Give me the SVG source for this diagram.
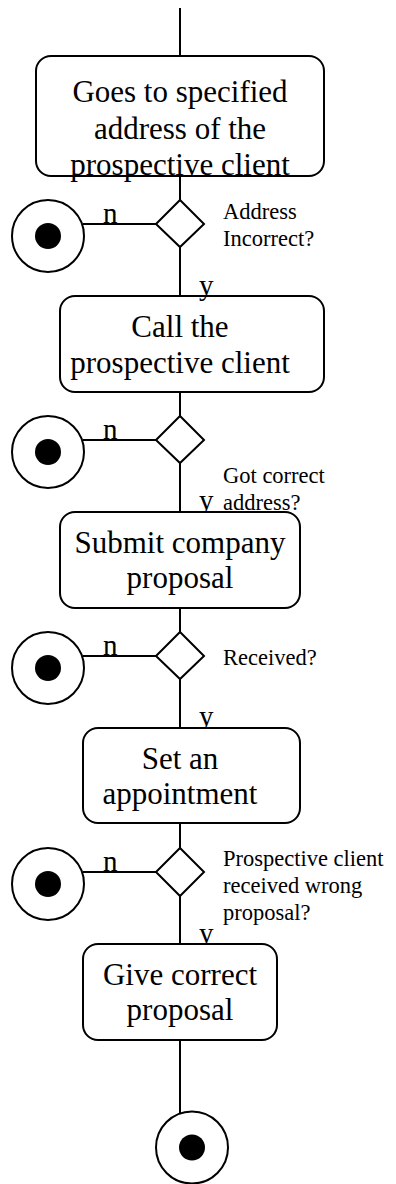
<svg xmlns="http://www.w3.org/2000/svg" width="396" height="1184" viewBox="0 0 396 1184">
  <style>
    .line { stroke: #000; stroke-width: 2; fill: none; }
    .act { fill: #fff; stroke: #000; stroke-width: 2; }
    .dec { fill: #fff; stroke: #000; stroke-width: 2; }
    .ring { fill: #fff; stroke: #000; stroke-width: 2; }
    .dot { fill: #000; }
    .big { font-family: "Liberation Serif", "Times New Roman", serif; font-size: 31px; fill: #000; text-anchor: middle; }
    .guard { font-family: "Liberation Serif", "Times New Roman", serif; font-size: 29px; fill: #000; }
    .note { font-family: "Liberation Serif", "Times New Roman", serif; font-size: 22.5px; fill: #000; }
  </style>

  <!-- flow lines -->
  <g id="connectors">
    <line class="line" x1="180" y1="8" x2="180" y2="56"/>
    <line class="line" x1="180" y1="176" x2="180" y2="200"/>
    <line class="line" x1="180" y1="247" x2="180" y2="296"/>
    <line class="line" x1="83" y1="224" x2="156" y2="224"/>
    <line class="line" x1="180" y1="392" x2="180" y2="416"/>
    <line class="line" x1="180" y1="463" x2="180" y2="512"/>
    <line class="line" x1="83" y1="440" x2="156" y2="440"/>
    <line class="line" x1="180" y1="608" x2="180" y2="632"/>
    <line class="line" x1="180" y1="679" x2="180" y2="728"/>
    <line class="line" x1="83" y1="656" x2="156" y2="656"/>
    <line class="line" x1="180" y1="823" x2="180" y2="848"/>
    <line class="line" x1="180" y1="896" x2="180" y2="944"/>
    <line class="line" x1="83" y1="872" x2="156" y2="872"/>
    <line class="line" x1="180" y1="1040" x2="180" y2="1114"/>
    <!-- guard labels -->
    <text class="guard" x="103" y="223">n</text>
    <text class="guard" x="103" y="439">n</text>
    <text class="guard" x="103" y="655">n</text>
    <text class="guard" x="103" y="871">n</text>
    <text class="guard" x="199" y="510">y</text>
    <text class="guard" x="199" y="726">y</text>
    <text class="guard" x="199" y="942.5">y</text>
  </g>

  <g id="act-goes">
    <rect class="act" x="36" y="56" width="288" height="120" rx="15" ry="15"/>
    <text class="big" x="180" y="102">Goes to specified</text>
    <text class="big" x="180" y="139">address of the</text>
    <text class="big" x="180" y="175">prospective client</text>
  </g>

  <g id="dec-address">
    <polygon class="dec" points="180,200 204,224 180,247 156,224"/>
    <text class="note" x="223" y="219">Address</text>
    <text class="note" x="223" y="246">Incorrect?</text>
  </g>
  <g id="end-1">
    <circle class="ring" cx="48" cy="236" r="36"/>
    <circle class="dot" cx="48" cy="236" r="13"/>
  </g>

  <g id="act-call">
    <rect class="act" x="60" y="296" width="264" height="96" rx="15" ry="15"/>
    <text class="big" x="180" y="336.5">Call the</text>
    <text class="big" x="180" y="373">prospective client</text>
  </g>
  <text class="guard" x="199" y="295">y</text>

  <g id="dec-got">
    <polygon class="dec" points="180,416 204,440 180,463 156,440"/>
    <text class="note" x="223" y="483">Got correct</text>
    <text class="note" x="223" y="510">address?</text>
  </g>
  <g id="end-2">
    <circle class="ring" cx="48" cy="452" r="36"/>
    <circle class="dot" cx="48" cy="452" r="13"/>
  </g>

  <g id="act-submit">
    <rect class="act" x="60" y="512" width="240" height="96" rx="15" ry="15"/>
    <text class="big" x="180" y="553">Submit company</text>
    <text class="big" x="180" y="588">proposal</text>
  </g>

  <g id="dec-received">
    <polygon class="dec" points="180,632 204,656 180,679 156,656"/>
    <text class="note" x="223" y="665">Received?</text>
  </g>
  <g id="end-3">
    <circle class="ring" cx="48" cy="668" r="36"/>
    <circle class="dot" cx="48" cy="668" r="13"/>
  </g>

  <g id="act-appointment">
    <rect class="act" x="83" y="728" width="217" height="95" rx="15" ry="15"/>
    <text class="big" x="180" y="769">Set an</text>
    <text class="big" x="180" y="804">appointment</text>
  </g>

  <g id="dec-wrong">
    <polygon class="dec" points="180,848 204,872 180,896 156,872"/>
    <text class="note" x="223" y="866">Prospective client</text>
    <text class="note" x="223" y="893">received wrong</text>
    <text class="note" x="223" y="919.5">proposal?</text>
  </g>
  <g id="end-4">
    <circle class="ring" cx="48" cy="884" r="36"/>
    <circle class="dot" cx="48" cy="884" r="13"/>
  </g>

  <g id="act-give">
    <rect class="act" x="83" y="944" width="194" height="96" rx="15" ry="15"/>
    <text class="big" x="180" y="985">Give correct</text>
    <text class="big" x="180" y="1020">proposal</text>
  </g>

  <g id="end-final">
    <circle class="ring" cx="192" cy="1147.5" r="36"/>
    <circle class="dot" cx="192" cy="1147.5" r="13"/>
  </g>
</svg>
